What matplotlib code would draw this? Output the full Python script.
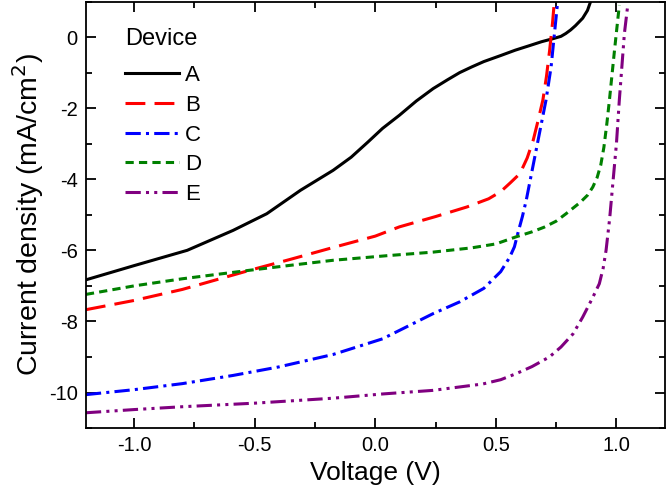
import numpy as np
import matplotlib
matplotlib.use("Agg")
import matplotlib.pyplot as plt
from matplotlib.ticker import MultipleLocator, FormatStrFormatter

plt.rcParams['font.family'] = ['Liberation Sans', 'DejaVu Sans']
plt.rcParams['axes.unicode_minus'] = False

# J-V curves (voltage in V, current density in mA/cm2)
vA = [-1.2, -1.0, -0.78, -0.59, -0.45, -0.31, -0.175, -0.1, -0.03, 0.03, 0.1, 0.17, 0.24, 0.3, 0.35, 0.4, 0.45, 0.52, 0.58, 0.64, 0.69, 0.74, 0.77, 0.79, 0.81, 0.83, 0.86, 0.88, 0.895]
jA = [-6.83, -6.43, -6.0, -5.44, -4.97, -4.31, -3.75, -3.38, -2.95, -2.57, -2.2, -1.8, -1.45, -1.2, -1.0, -0.84, -0.69, -0.52, -0.37, -0.24, -0.13, -0.04, 0.02, 0.10, 0.2, 0.32, 0.53, 0.75, 1.04]

vB = [-1.2, -1.0, -0.8, -0.52, -0.35, -0.175, 0.0, 0.1, 0.25, 0.38, 0.47, 0.52, 0.56, 0.6, 0.63, 0.655, 0.675, 0.695, 0.71, 0.723, 0.735, 0.743]
jB = [-7.67, -7.41, -7.1, -6.56, -6.25, -5.92, -5.6, -5.34, -5.05, -4.78, -4.55, -4.35, -4.1, -3.84, -3.4, -2.9, -2.35, -1.77, -1.1, -0.37, 0.4, 1.04]

vC = [-1.2, -1.0, -0.8, -0.59, -0.4, -0.175, 0.03, 0.24, 0.35, 0.45, 0.52, 0.557, 0.577, 0.59, 0.61, 0.626, 0.667, 0.708, 0.729, 0.743, 0.757]
jC = [-10.06, -9.92, -9.75, -9.52, -9.28, -8.93, -8.49, -7.78, -7.45, -7.07, -6.6, -6.2, -5.9, -5.55, -5.05, -4.59, -3.18, -1.77, -0.84, 0.1, 1.04]

vD = [-1.2, -1.0, -0.8, -0.52, -0.35, -0.175, 0.05, 0.24, 0.4, 0.5, 0.584, 0.65, 0.7, 0.75, 0.791, 0.85, 0.88, 0.902, 0.92, 0.935, 0.948, 0.96, 0.971, 0.992, 1.012]
jD = [-7.24, -7.0, -6.8, -6.56, -6.42, -6.28, -6.15, -6.05, -5.93, -5.82, -5.62, -5.48, -5.35, -5.18, -4.97, -4.65, -4.45, -4.22, -3.95, -3.6, -3.1, -2.45, -1.77, -0.37, 0.9]

vE = [-1.2, -1.0, -0.8, -0.5, -0.175, 0.032, 0.239, 0.446, 0.52, 0.584, 0.65, 0.722, 0.77, 0.82, 0.86, 0.9, 0.929, 0.945, 0.957, 0.972, 0.985, 1.0, 1.012, 1.033, 1.047]
jE = [-10.57, -10.48, -10.4, -10.3, -10.16, -10.04, -9.94, -9.76, -9.64, -9.47, -9.27, -9.0, -8.72, -8.35, -7.88, -7.35, -6.94, -6.5, -6.0, -5.1, -4.12, -3.0, -1.77, 0.10, 0.90]

devices = ['A', 'B', 'C', 'D', 'E']

fig = plt.figure(figsize=(6.66, 5.03), dpi=100)
ax = fig.add_axes([0.129, 0.149, 0.869, 0.848])

lw = 2.2
ax.plot(vA, jA, color='black', lw=lw, label=devices[0])
ax.plot(vB, jB, color='#ff0000', lw=lw, dashes=(6.5, 3), label=devices[1])
ax.plot(vC, jC, color='#0000ff', lw=lw, dashes=(5, 1.7, 1, 1.7), label=devices[2])
ax.plot(vD, jD, color='#008000', lw=lw, dashes=(2.7, 1.7), label=devices[3])
ax.plot(vE, jE, color='#800080', lw=lw, dashes=(5, 1.7, 1, 1.7, 1, 1.7), label=devices[4])

ax.set_xlim(-1.2, 1.2)
ax.set_ylim(-11, 1)
ax.xaxis.set_major_locator(MultipleLocator(0.5))
ax.xaxis.set_minor_locator(MultipleLocator(0.25))
ax.yaxis.set_major_locator(MultipleLocator(2))
ax.yaxis.set_minor_locator(MultipleLocator(1))
ax.xaxis.set_major_formatter(FormatStrFormatter('%.1f'))
ax.tick_params(which='both', direction='in', top=True, right=True, width=1.3)
ax.tick_params(which='major', length=7, labelsize=14.5, pad=6)
ax.tick_params(which='minor', length=4)
for s in ax.spines.values():
    s.set_linewidth(1.3)

ax.set_xlabel('Voltage (V)', fontsize=19, labelpad=4)
ax.set_ylabel('Current density (mA/cm$^2$)', fontsize=20.5, labelpad=2)

leg = ax.legend(title='Device', loc='upper left', bbox_to_anchor=(0.045, 0.97), frameon=False,
                fontsize=16, title_fontsize=17, handlelength=2.4, handletextpad=0.3,
                labelspacing=0.39, borderaxespad=0.2)
leg._legend_box.align = 'left'
leg._legend_box.sep += 5

fig.savefig('out.png', dpi=100)
